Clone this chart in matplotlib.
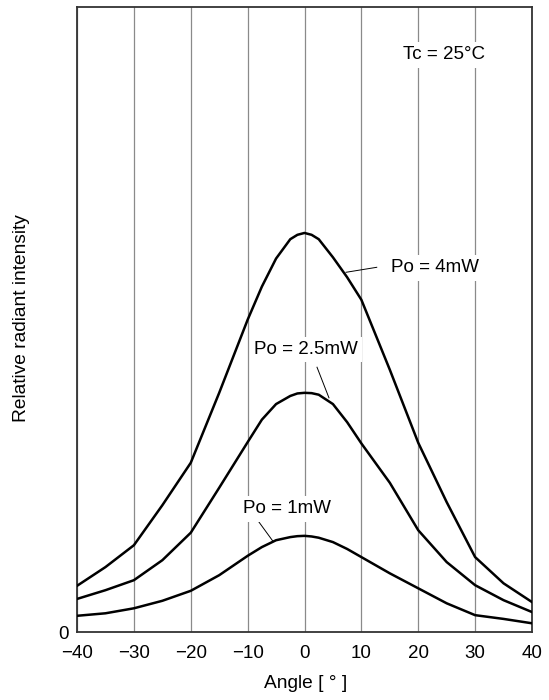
import matplotlib
matplotlib.use("Agg")
import matplotlib.pyplot as plt

plt.rcParams['font.family'] = ['Liberation Sans', 'DejaVu Sans']

# angle [deg] and relative radiant intensity (axis top = 100)
angles = [-40, -35, -30, -25, -20, -15, -10, -7.5, -5, -2.5, -1.25, 0, 1.25, 2.5, 5, 7.5, 10, 15, 20, 25, 30, 35, 40]
po_4mw = [7.4, 10.4, 13.9, 20.3, 27.1, 38.3, 50.0, 55.3, 59.8, 62.9, 63.6, 63.9, 63.6, 62.9, 60.0, 56.8, 53.2, 42.0, 30.3, 20.8, 12.0, 7.8, 4.8]
po_2_5mw = [5.3, 6.7, 8.3, 11.5, 15.9, 23.1, 30.4, 34.0, 36.5, 37.8, 38.2, 38.3, 38.25, 38.0, 36.5, 33.6, 30.2, 23.9, 16.3, 11.2, 7.5, 5.1, 3.2]
po_1mw = [2.6, 3.0, 3.8, 5.0, 6.6, 9.1, 12.2, 13.6, 14.7, 15.2, 15.35, 15.4, 15.3, 15.1, 14.4, 13.3, 12.0, 9.4, 7.0, 4.6, 2.7, 2.1, 1.4]

x_ticks = [-40, -30, -20, -10, 0, 10, 20, 30, 40]

fig = plt.figure(figsize=(5.49, 7.0), dpi=100)
ax = fig.add_axes([0.1403, 0.0971, 0.8287, 0.8922])

for ys in (po_4mw, po_2_5mw, po_1mw):
    ax.plot(angles, ys, color='black', lw=1.8, solid_joinstyle='round', zorder=3)

ax.set_xlim(-40, 40)
ax.set_ylim(0, 100)
ax.set_xticks(x_ticks)
ax.set_yticks([0])
ax.set_yticklabels(['0'])
ax.tick_params(axis='both', length=0, labelsize=13.5, colors='black')
ax.tick_params(axis='x', pad=9)
ax.tick_params(axis='y', pad=6)
ax.grid(axis='x', color='#8a8a8a', lw=0.9)
for s in ax.spines.values():
    s.set_color('#333333')
    s.set_linewidth(1.3)

box = dict(facecolor='white', edgecolor='none', pad=3)
ax.text(24.5, 92.4, 'Tc = 25°C', fontsize=13.5, ha='center', va='center', bbox=box, zorder=4)

# labels with leader lines
ax.plot([7.3, 12.7], [57.6, 58.4], color='black', lw=0.7, zorder=3)
ax.text(22.9, 58.3, 'Po = 4mW', fontsize=13.5, ha='center', va='center', bbox=box, zorder=4)

ax.plot([2.2, 4.3], [42.4, 37.5], color='black', lw=0.7, zorder=3)
ax.text(0.2, 45.2, 'Po = 2.5mW', fontsize=13.5, ha='center', va='center', bbox=box, zorder=4)

ax.plot([-8.0, -5.6], [17.6, 14.6], color='black', lw=0.7, zorder=3)
ax.text(-3.1, 19.7, 'Po = 1mW', fontsize=13.5, ha='center', va='center', bbox=box, zorder=4)

fig.text(306 / 549, 1 - 683 / 700, 'Angle [ ° ]', fontsize=13.8, ha='center', va='center')
fig.text(22 / 549, 1 - 318 / 700, 'Relative radiant intensity', fontsize=13.8,
         ha='center', va='center', rotation=90)

fig.savefig('out.png', dpi=100)
